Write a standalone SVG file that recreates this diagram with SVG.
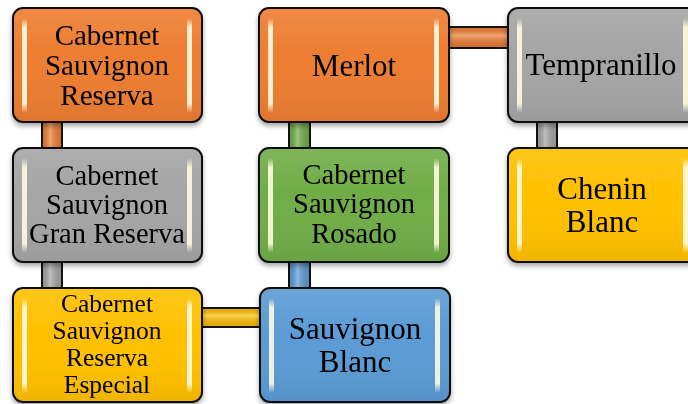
<svg xmlns="http://www.w3.org/2000/svg" width="688" height="404" viewBox="0 0 688 404">
<style>
.box{stroke:#111;stroke-width:2}
.sh{fill:url(#shade);stroke:none}
.hl{fill:url(#strip);stroke:none}
.con{stroke:#111;stroke-width:2}
.t{font-family:"Liberation Serif","Times New Roman",serif;text-anchor:middle;fill:#000}
.orange{fill:#ED7D31}.gray{fill:#A5A5A5}.green{fill:#70AD47}.blue{fill:#5B9BD5}.yellow{fill:#FFC000}
</style>
<defs>
<filter id="ds" x="-10%" y="-10%" width="120%" height="130%">
<feDropShadow dx="0" dy="3" stdDeviation="2.5" flood-color="#000" flood-opacity="0.35"/>
</filter>
<linearGradient id="shade" x1="0" y1="0" x2="0" y2="1">
<stop offset="0" stop-color="#fff" stop-opacity="0.1"/>
<stop offset="0.4" stop-color="#fff" stop-opacity="0"/>
<stop offset="1" stop-color="#000" stop-opacity="0.06"/>
</linearGradient>
<linearGradient id="strip" x1="0" y1="0" x2="0" y2="1">
<stop offset="0" stop-color="#fffbe0" stop-opacity="0"/>
<stop offset="0.1" stop-color="#fffbe0" stop-opacity="0.9"/>
<stop offset="0.9" stop-color="#fffbe0" stop-opacity="0.9"/>
<stop offset="1" stop-color="#fffbe0" stop-opacity="0"/>
</linearGradient>
<linearGradient id="hv" x1="0" y1="0" x2="1" y2="0">
<stop offset="0" stop-color="#000" stop-opacity="0.1"/>
<stop offset="0.4" stop-color="#fff" stop-opacity="0.3"/>
<stop offset="1" stop-color="#000" stop-opacity="0.1"/>
</linearGradient>
<linearGradient id="vv" x1="0" y1="0" x2="0" y2="1">
<stop offset="0" stop-color="#000" stop-opacity="0.1"/>
<stop offset="0.4" stop-color="#fff" stop-opacity="0.3"/>
<stop offset="1" stop-color="#000" stop-opacity="0.1"/>
</linearGradient>
</defs>

<g id="connectors">
<rect class="con orange" x="42" y="116" width="20" height="38"/><rect x="42" y="116" width="20" height="38" fill="url(#hv)"/>
<rect class="con gray" x="42" y="256" width="20" height="38"/><rect x="42" y="256" width="20" height="38" fill="url(#hv)"/>
<rect class="con yellow" x="196" y="308" width="70" height="19"/><rect x="196" y="308" width="70" height="19" fill="url(#vv)"/>
<rect class="con green" x="289" y="116" width="21" height="38"/><rect x="289" y="116" width="21" height="38" fill="url(#hv)"/>
<rect class="con blue" x="289" y="256" width="21" height="38"/><rect x="289" y="256" width="21" height="38" fill="url(#hv)"/>
<rect class="con orange" x="443" y="27" width="71" height="21"/><rect x="443" y="27" width="71" height="21" fill="url(#vv)"/>
<rect class="con gray" x="537" y="116" width="20" height="38"/><rect x="537" y="116" width="20" height="38" fill="url(#hv)"/>
</g>

<g id="n1" filter="url(#ds)">
<rect class="box orange" x="13" y="8" width="189" height="114" rx="10"/>
<rect class="sh" x="14" y="9" width="187" height="112" rx="9"/>
<rect class="hl" x="22" y="18" width="5" height="95" rx="2.5"/>
<rect class="hl" x="187" y="18" width="5" height="95" rx="2.5"/>
<text class="t" font-size="29"><tspan x="107" y="45">Cabernet</tspan><tspan x="107" y="75">Sauvignon</tspan><tspan x="107" y="105">Reserva</tspan></text>
</g>

<g id="n2" filter="url(#ds)">
<rect class="box gray" x="13" y="148" width="189" height="114" rx="10"/>
<rect class="sh" x="14" y="149" width="187" height="112" rx="9"/>
<rect class="hl" x="22" y="158" width="5" height="95" rx="2.5"/>
<rect class="hl" x="187" y="158" width="5" height="95" rx="2.5"/>
<text class="t" font-size="28.5"><tspan x="107" y="185">Cabernet</tspan><tspan x="107" y="214">Sauvignon</tspan><tspan x="107" y="243">Gran Reserva</tspan></text>
</g>

<g id="n3" filter="url(#ds)">
<rect class="box yellow" x="13" y="288" width="189" height="114" rx="10"/>
<rect class="sh" x="14" y="289" width="187" height="112" rx="9"/>
<rect class="hl" x="22" y="298" width="5" height="95" rx="2.5"/>
<rect class="hl" x="187" y="298" width="5" height="95" rx="2.5"/>
<text class="t" font-size="25.5"><tspan x="107" y="312">Cabernet</tspan><tspan x="107" y="339">Sauvignon</tspan><tspan x="107" y="366">Reserva</tspan><tspan x="107" y="393">Especial</tspan></text>
</g>

<g id="n4" filter="url(#ds)">
<rect class="box orange" x="259" y="8" width="190" height="114" rx="10"/>
<rect class="sh" x="260" y="9" width="188" height="112" rx="9"/>
<rect class="hl" x="268" y="18" width="5" height="95" rx="2.5"/>
<rect class="hl" x="434" y="18" width="5" height="95" rx="2.5"/>
<text class="t" font-size="31" x="354" y="76">Merlot</text>
</g>

<g id="n5" filter="url(#ds)">
<rect class="box green" x="259" y="148" width="190" height="114" rx="10"/>
<rect class="sh" x="260" y="149" width="188" height="112" rx="9"/>
<rect class="hl" x="268" y="158" width="5" height="95" rx="2.5"/>
<rect class="hl" x="434" y="158" width="5" height="95" rx="2.5"/>
<text class="t" font-size="28.5"><tspan x="354" y="184">Cabernet</tspan><tspan x="354" y="213">Sauvignon</tspan><tspan x="354" y="243">Rosado</tspan></text>
</g>

<g id="n6" filter="url(#ds)">
<rect class="box blue" x="260" y="288" width="190" height="114" rx="10"/>
<rect class="sh" x="261" y="289" width="188" height="112" rx="9"/>
<rect class="hl" x="269" y="298" width="5" height="95" rx="2.5"/>
<rect class="hl" x="435" y="298" width="5" height="95" rx="2.5"/>
<text class="t" font-size="31"><tspan x="355" y="339">Sauvignon</tspan><tspan x="355" y="372">Blanc</tspan></text>
</g>

<g id="n7" filter="url(#ds)">
<rect class="box gray" x="508" y="8" width="190" height="114" rx="10"/>
<rect class="sh" x="509" y="9" width="188" height="112" rx="9"/>
<rect class="hl" x="517" y="18" width="5" height="95" rx="2.5"/>
<rect class="hl" x="683" y="18" width="5" height="95" rx="2.5"/>
<text class="t" font-size="31" x="601" y="75">Tempranillo</text>
</g>

<g id="n8" filter="url(#ds)">
<rect class="box yellow" x="508" y="148" width="190" height="114" rx="10"/>
<rect class="sh" x="509" y="149" width="188" height="112" rx="9"/>
<rect class="hl" x="517" y="158" width="5" height="95" rx="2.5"/>
<rect class="hl" x="683" y="158" width="5" height="95" rx="2.5"/>
<text class="t" font-size="31"><tspan x="602" y="199">Chenin</tspan><tspan x="602" y="232">Blanc</tspan></text>
</g>
</svg>
